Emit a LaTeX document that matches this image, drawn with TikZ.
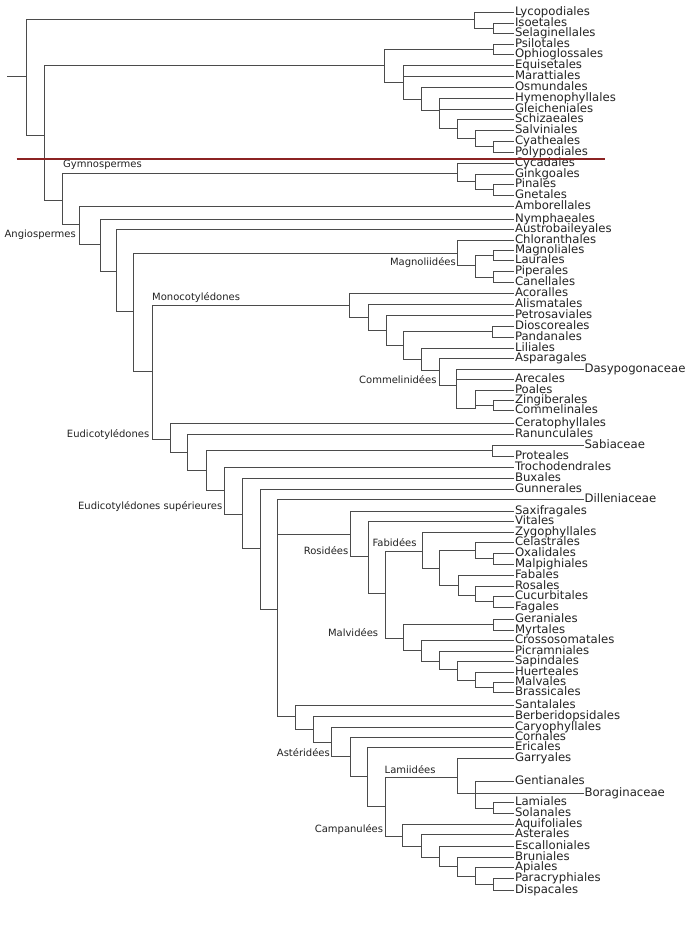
\documentclass[tikz,border=0pt]{standalone}
\usepackage{fontspec}
\setmainfont{DejaVu Sans}
\definecolor{lc}{RGB}{75,75,75}
\definecolor{tc}{RGB}{35,35,35}
\definecolor{redl}{RGB}{140,35,35}
\newcommand\clade[2]{\foreach \c in {#2}{\draw[br] (#1) |- (\c);}}
\begin{document}
\begin{tikzpicture}[x=1pt,y=-1pt,
  br/.style={draw=lc, line width=1pt, line cap=rect},
  leaf/.style={anchor=west, inner xsep=1.5pt, inner ysep=0pt, outer sep=0pt,
    text height=7.8pt, text depth=1.4pt, font=\fontsize{11.7}{14}\selectfont, text=tc},
  clab/.style={inner sep=0pt, font=\fontsize{10}{12}\selectfont, text=tc}]
\fill[white] (0,0) rectangle (700,929);
\useasboundingbox (0,0) rectangle (700,929);
% ---- leaves
\foreach \n/\y in {Lycopodiales/12.7, Isoetales/23.3, Selaginellales/33.3, Psilotales/44,
  Ophioglossales/54, Equisetales/65.3, Marattiales/76, Osmundales/87.3, Hymenophyllales/98.3,
  Gleicheniales/109, Schizaeales/119.3, Salviniales/130, Cyatheales/141, Polypodiales/152.3,
  Cycadales/163.3, Ginkgoales/174, Pinales/184.3, Gnetales/195, Amborellales/206.5,
  Nymphaeales/219.3, Austrobaileyales/229.5, Chloranthales/240, Magnoliales/250,
  Laurales/260.7, Piperales/271.7, Canellales/282.3, Acoralles/293.7, Alismatales/304,
  Petrosaviales/315, Dioscoreales/326, Pandanales/337, Liliales/348.3, Asparagales/358.7,
  Arecales/379.3, Poales/390, Zingiberales/400.3, Commelinales/410.7,
  Ceratophyllales/423, Ranunculales/434.3, Proteales/456, Trochodendrales/467,
  Buxales/478, Gunnerales/489, Saxifragales/511, Vitales/521.3, Zygophyllales/532,
  Celastrales/542.7, Oxalidales/553.3, Malpighiales/564, Fabales/575.7, Rosales/586,
  Cucurbitales/596.7, Fagales/607, Geraniales/619, Myrtales/630, Crossosomatales/640.3,
  Picramniales/651.3, Sapindales/661.7, Huerteales/672.3, Malvales/682.3,
  Brassicales/692.7, Santalales/705.3, Berberidopsidales/716.3, Caryophyllales/727.3,
  Cornales/737.5, Ericales/747.7, Garryales/758.3, Gentianales/781, Lamiales/802.7,
  Solanales/813.3, Aquifoliales/824, Asterales/834.7, Escalloniales/846.7,
  Bruniales/857, Apiales/867.3, Paracryphiales/878, Dispacales/890}
  {\node[leaf] (\n) at (513.5,\y) {\n};}
\foreach \n/\y in {Dasypogonaceae/369.3, Sabiaceae/445, Dilleniaceae/499.3, Boraginaceae/793}
  {\node[leaf] (\n) at (583,\y) {\n};}
% ---- internal nodes
\coordinate (rs) at (7,76);
\coordinate (r) at (26,76);
\coordinate (lyc) at (474,19.5);
\coordinate (iso) at (493.3,28.3);
\coordinate (eu) at (44.7,135);
\coordinate (fern) at (384.3,65.7);
\coordinate (ps) at (493.3,49);
\coordinate (f1) at (403.3,82.3);
\coordinate (f2) at (421,99);
\coordinate (f3) at (439.3,110);
\coordinate (f4) at (457,128.3);
\coordinate (f5) at (475,138.3);
\coordinate (f6) at (493.3,146.7);
\coordinate (sp) at (62,200);
\coordinate (gym) at (457.3,173);
\coordinate (g1) at (475,181.8);
\coordinate (g2) at (493.3,189.7);
\coordinate (an) at (79.3,224);
\coordinate (a1) at (100.7,244.3);
\coordinate (a2) at (116.3,271.3);
\coordinate (a3) at (133.3,311.7);
\coordinate (mag) at (457.3,253.5);
\coordinate (m1) at (475.3,265.7);
\coordinate (m2) at (493.3,255.3);
\coordinate (m3) at (493.3,277);
\coordinate (a4) at (152,371.7);
\coordinate (mono) at (349.3,305.5);
\coordinate (mo2) at (368.3,317.3);
\coordinate (mo3) at (386,330.7);
\coordinate (mo4) at (403.3,345);
\coordinate (dp) at (492.7,331.7);
\coordinate (mo5) at (421.7,359.3);
\coordinate (mo6) at (439.3,370);
\coordinate (mo7) at (456.7,385);
\coordinate (mo8) at (475,408.3);
\coordinate (zc) at (493.3,405.3);
\coordinate (eud) at (170,439);
\coordinate (e1) at (187.7,452.3);
\coordinate (e2) at (206,470);
\coordinate (spr) at (492.7,450.7);
\coordinate (e3) at (224,490.7);
\coordinate (e4) at (242.3,514);
\coordinate (e5) at (260,548.3);
\coordinate (e6) at (277.7,609.3);
\coordinate (ros) at (350.7,534);
\coordinate (r1) at (368.3,556.7);
\coordinate (r2) at (385,593.3);
\coordinate (fab) at (422.3,551.7);
\coordinate (fb1) at (439.3,568.3);
\coordinate (com) at (475.7,550.5);
\coordinate (om) at (493.3,558.7);
\coordinate (fb2) at (458.3,585);
\coordinate (fb3) at (475.7,595);
\coordinate (fb4) at (493.3,601.7);
\coordinate (mal) at (403.3,638);
\coordinate (gm) at (493.3,624.5);
\coordinate (mv1) at (421.3,650);
\coordinate (mv2) at (439.3,661);
\coordinate (mv3) at (457.3,669.3);
\coordinate (mv4) at (475.7,680);
\coordinate (mv5) at (493.3,687);
\coordinate (as0) at (295.7,716.7);
\coordinate (as1) at (313.3,729.3);
\coordinate (as2) at (331.7,742.7);
\coordinate (as3) at (350,756.7);
\coordinate (as4) at (367.3,776);
\coordinate (as5) at (385.7,806.7);
\coordinate (lam) at (457.5,777.3);
\coordinate (l1) at (475,793);
\coordinate (ls) at (493.3,808);
\coordinate (cam) at (402.7,836.7);
\coordinate (c1) at (421.7,846);
\coordinate (c2) at (439.3,857.3);
\coordinate (c3) at (457.3,866.7);
\coordinate (c4) at (475.7,876);
\coordinate (c5) at (493.3,884);
% ---- branches
\draw[br] (rs) -- (r);
\clade{r}{lyc,eu}
\clade{lyc}{Lycopodiales,iso}
\clade{iso}{Isoetales,Selaginellales}
\clade{eu}{fern,sp}
\clade{fern}{ps,f1}
\clade{ps}{Psilotales,Ophioglossales}
\clade{f1}{Equisetales,Marattiales,f2}
\clade{f2}{Osmundales,f3}
\clade{f3}{Hymenophyllales,Gleicheniales,f4}
\clade{f4}{Schizaeales,f5}
\clade{f5}{Salviniales,f6}
\clade{f6}{Cyatheales,Polypodiales}
\clade{sp}{gym,an}
\clade{gym}{Cycadales,g1}
\clade{g1}{Ginkgoales,g2}
\clade{g2}{Pinales,Gnetales}
\clade{an}{Amborellales,a1}
\clade{a1}{Nymphaeales,a2}
\clade{a2}{Austrobaileyales,a3}
\clade{a3}{mag,a4}
\clade{mag}{Chloranthales,m1}
\clade{m1}{m2,m3}
\clade{m2}{Magnoliales,Laurales}
\clade{m3}{Piperales,Canellales}
\clade{a4}{mono,eud}
\clade{mono}{Acoralles,mo2}
\clade{mo2}{Alismatales,mo3}
\clade{mo3}{Petrosaviales,mo4}
\clade{mo4}{dp,mo5}
\clade{dp}{Dioscoreales,Pandanales}
\clade{mo5}{Liliales,mo6}
\clade{mo6}{Asparagales,mo7}
\clade{mo7}{Dasypogonaceae,Arecales,mo8}
\clade{mo8}{Poales,zc}
\clade{zc}{Zingiberales,Commelinales}
\clade{eud}{Ceratophyllales,e1}
\clade{e1}{Ranunculales,e2}
\clade{e2}{spr,e3}
\clade{spr}{Sabiaceae,Proteales}
\clade{e3}{Trochodendrales,e4}
\clade{e4}{Buxales,e5}
\clade{e5}{Gunnerales,e6}
\clade{e6}{Dilleniaceae,ros,as0}
\clade{ros}{Saxifragales,r1}
\clade{r1}{Vitales,r2}
\clade{r2}{fab,mal}
\clade{fab}{Zygophyllales,fb1}
\clade{fb1}{com,fb2}
\clade{com}{Celastrales,om}
\clade{om}{Oxalidales,Malpighiales}
\clade{fb2}{Fabales,fb3}
\clade{fb3}{Rosales,fb4}
\clade{fb4}{Cucurbitales,Fagales}
\clade{mal}{gm,mv1}
\clade{gm}{Geraniales,Myrtales}
\clade{mv1}{Crossosomatales,mv2}
\clade{mv2}{Picramniales,mv3}
\clade{mv3}{Sapindales,mv4}
\clade{mv4}{Huerteales,mv5}
\clade{mv5}{Malvales,Brassicales}
\clade{as0}{Santalales,as1}
\clade{as1}{Berberidopsidales,as2}
\clade{as2}{Caryophyllales,as3}
\clade{as3}{Cornales,as4}
\clade{as4}{Ericales,as5}
\clade{as5}{lam,cam}
\clade{lam}{Garryales,l1}
\clade{l1}{Gentianales,Boraginaceae,ls}
\clade{ls}{Lamiales,Solanales}
\clade{cam}{Aquifoliales,c1}
\clade{c1}{Asterales,c2}
\clade{c2}{Escalloniales,c3}
\clade{c3}{Bruniales,c4}
\clade{c4}{Apiales,c5}
\clade{c5}{Paracryphiales,Dispacales}
% ---- clade labels
\node[clab, anchor=base west] (lgym) at (63,167.5) {Gymnospermes};
\node[clab, anchor=base east] (lang) at (76,237) {Angiospermes};
\node[clab, anchor=base west] (lmono) at (152,300.5) {Monocotylédones};
\node[clab, anchor=base east] (leud) at (149.5,437) {Eudicotylédones};
\node[clab, anchor=base east] (leus) at (222.5,509.3) {Eudicotylédones supérieures};
\node[clab, anchor=base east] (lmag) at (456,265) {Magnoliidées};
\node[clab, anchor=base east] (lcom) at (436.7,383) {Commelinidées};
\node[clab, anchor=base east] (lros) at (348.5,554) {Rosidées};
\node[clab, anchor=base east] (lfab) at (416.7,546.7) {Fabidées};
\node[clab, anchor=base east] (lmal) at (378.3,636.3) {Malvidées};
\node[clab, anchor=base east] (last) at (330,756.5) {Astéridées};
\node[clab, anchor=base west] (llam) at (384.5,773.3) {Lamiidées};
\node[clab, anchor=base east] (lcam) at (383.3,832.7) {Campanulées};
% ---- red separator
\coordinate (redA) at (16.7,159);
\coordinate (redB) at (605,159);
\draw[redl, line width=2pt] (redA) -- (redB);
\end{tikzpicture}
\end{document}
